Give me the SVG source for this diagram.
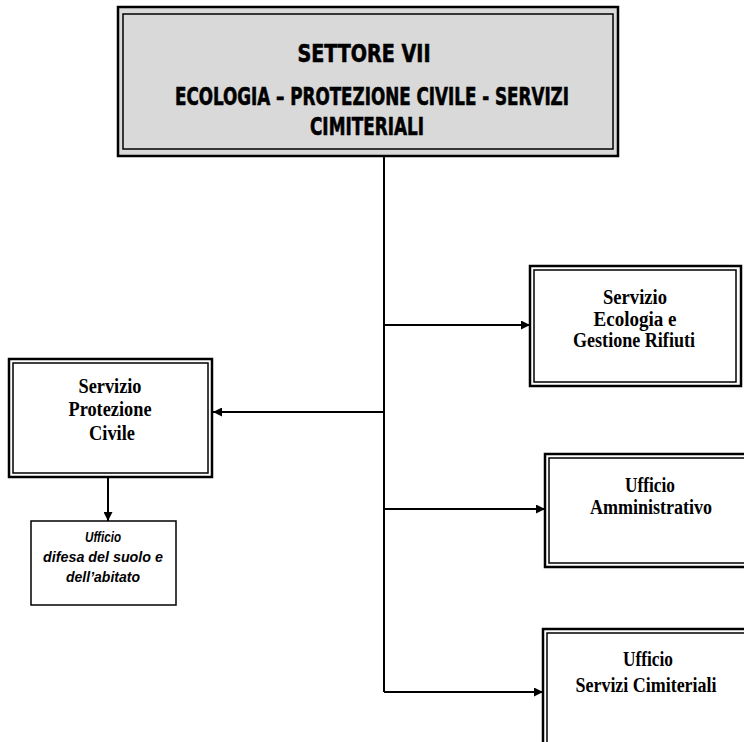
<svg xmlns="http://www.w3.org/2000/svg" width="744" height="742" viewBox="0 0 744 742">
  <style>
    .outer { fill: none; stroke: #000; stroke-width: 2.5; }
    .inner { fill: none; stroke: #000; stroke-width: 1.5; }
    .bg { fill: #fff; }
    .gray { fill: #d9d9d9; }
    .title { font-family: "DejaVu Sans Condensed", "Liberation Sans", sans-serif; font-weight: bold; font-size: 24px; fill: #000; text-anchor: middle; stroke: #000; stroke-width: 0.6; }
    .lbl { font-family: "Liberation Serif", serif; font-weight: bold; font-size: 20px; fill: #000; text-anchor: middle; }
    .it { font-family: "Liberation Sans", sans-serif; font-weight: bold; font-style: italic; font-size: 15px; fill: #000; text-anchor: middle; }
    .conn { fill: none; stroke: #000; stroke-width: 2; }
  </style>
  <defs>
    <marker id="ah" viewBox="0 0 10 10" refX="10" refY="5" markerWidth="4.5" markerHeight="4.5" markerUnits="strokeWidth" orient="auto">
      <path d="M0,0 L10,5 L0,10 z" fill="#000"/>
    </marker>
  </defs>
  <rect width="744" height="742" fill="#fff"/>

  <g id="connectors">
    <line class="conn" x1="384" y1="156" x2="384" y2="692"/>
    <line class="conn" x1="384" y1="325" x2="530" y2="325" marker-end="url(#ah)"/>
    <line class="conn" x1="384" y1="412" x2="213" y2="412" stroke-width="3" marker-end="url(#ah)"/>
    <line class="conn" x1="384" y1="509" x2="545" y2="509" marker-end="url(#ah)"/>
    <line class="conn" x1="384" y1="692" x2="543" y2="692" marker-end="url(#ah)"/>
    <line class="conn" x1="108" y1="478" x2="108" y2="521" marker-end="url(#ah)"/>
  </g>

  <g id="settore">
    <rect class="gray" x="118" y="7" width="500" height="149"/>
    <rect class="outer" x="118" y="7" width="500" height="149" stroke-width="3"/>
    <rect class="inner" x="123" y="14" width="490" height="135" stroke-width="2"/>
    <text class="title" x="364" y="62" textLength="133" lengthAdjust="spacingAndGlyphs">SETTORE VII</text>
    <text class="title" x="372" y="105" textLength="394" lengthAdjust="spacingAndGlyphs">ECOLOGIA – PROTEZIONE CIVILE - SERVIZI</text>
    <text class="title" x="367" y="135" textLength="114" lengthAdjust="spacingAndGlyphs">CIMITERIALI</text>
  </g>

  <g id="ecologia">
    <rect class="bg" x="530" y="266" width="211" height="120"/>
    <rect class="outer" x="530" y="266" width="211" height="120"/>
    <rect class="inner" x="534" y="270" width="202" height="112"/>
    <text class="lbl" x="635" y="304" textLength="64" lengthAdjust="spacingAndGlyphs">Servizio</text>
    <text class="lbl" x="635" y="326" textLength="83" lengthAdjust="spacingAndGlyphs">Ecologia e</text>
    <text class="lbl" x="634" y="347" textLength="122" lengthAdjust="spacingAndGlyphs">Gestione Rifiuti</text>
  </g>

  <g id="protezione">
    <rect class="bg" x="9" y="359" width="203" height="118"/>
    <rect class="outer" x="9" y="359" width="203" height="118"/>
    <rect class="inner" x="13" y="363" width="195" height="110"/>
    <text class="lbl" x="110" y="393" textLength="63" lengthAdjust="spacingAndGlyphs">Servizio</text>
    <text class="lbl" x="110" y="416" textLength="83" lengthAdjust="spacingAndGlyphs">Protezione</text>
    <text class="lbl" x="112" y="440" textLength="46" lengthAdjust="spacingAndGlyphs">Civile</text>
  </g>

  <g id="amministrativo">
    <rect class="bg" x="545" y="454" width="205" height="113"/>
    <rect class="outer" x="545" y="454" width="205" height="113"/>
    <rect class="inner" x="549" y="458" width="205" height="105"/>
    <text class="lbl" x="650" y="492" textLength="50" lengthAdjust="spacingAndGlyphs">Ufficio</text>
    <text class="lbl" x="651" y="514" textLength="122" lengthAdjust="spacingAndGlyphs">Amministrativo</text>
  </g>

  <g id="difesa">
    <rect x="31" y="521" width="145" height="84" fill="#fff" stroke="#000" stroke-width="1.5"/>
    <text class="it" x="103" y="542" textLength="36" lengthAdjust="spacingAndGlyphs">Ufficio</text>
    <text class="it" x="103" y="562" textLength="120" lengthAdjust="spacingAndGlyphs">difesa del suolo  e</text>
    <text class="it" x="103" y="582" textLength="74" lengthAdjust="spacingAndGlyphs">dell’abitato</text>
  </g>

  <g id="cimiteriali">
    <rect class="bg" x="543" y="629" width="210" height="120"/>
    <rect class="outer" x="543" y="629" width="210" height="120"/>
    <rect class="inner" x="547" y="633" width="210" height="120"/>
    <text class="lbl" x="648" y="666" textLength="50" lengthAdjust="spacingAndGlyphs">Ufficio</text>
    <text class="lbl" x="646" y="692" textLength="141" lengthAdjust="spacingAndGlyphs">Servizi Cimiteriali</text>
  </g>
</svg>
